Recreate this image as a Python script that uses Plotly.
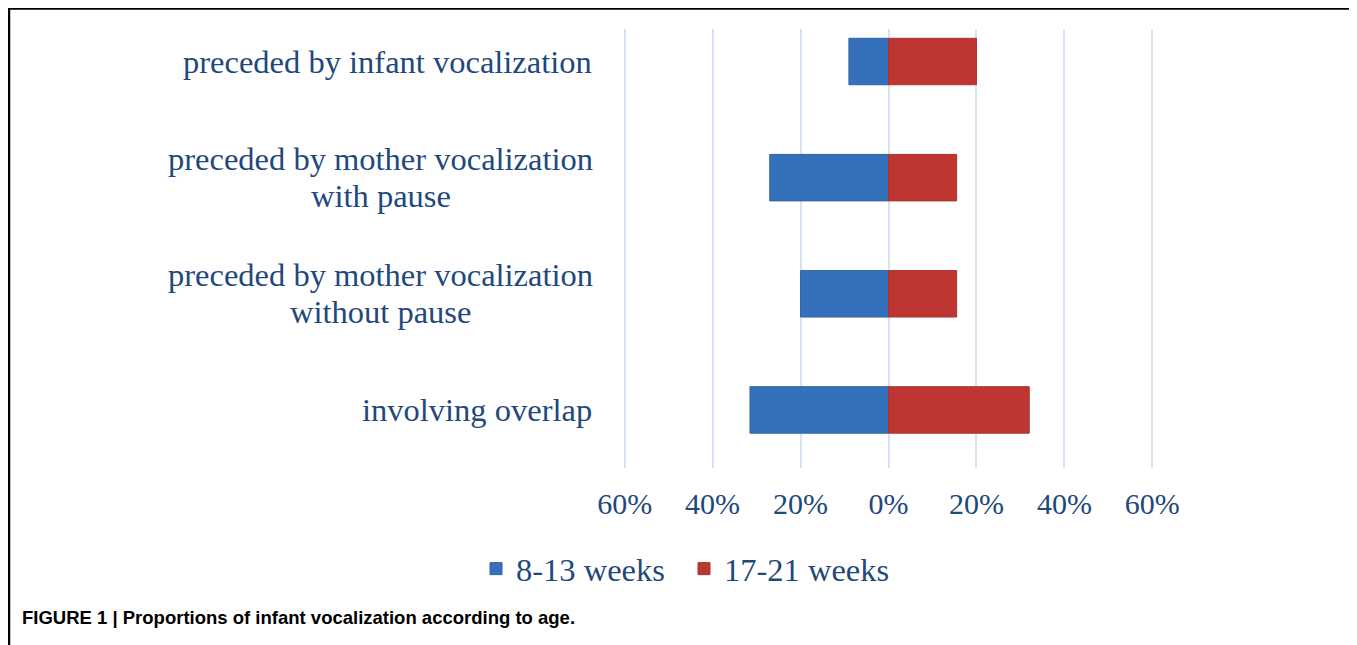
import plotly.graph_objects as go

# ---- data ----
categories = [
    "involving overlap",
    "preceded by mother vocalization without pause",
    "preceded by mother vocalization with pause",
    "preceded by infant vocalization",
]
label_lines = [
    ["involving overlap"],
    ["preceded by mother vocalization", "without pause"],
    ["preceded by mother vocalization", "with pause"],
    ["preceded by infant vocalization"],
]
weeks_8_13 = [31.5, 20, 27, 9]       # percent, drawn to the left
weeks_17_21 = [32, 15.5, 15.5, 20]   # percent, drawn to the right
tick_values = [-60, -40, -20, 0, 20, 40, 60]
tick_labels = ["60%", "40%", "20%", "0%", "20%", "40%", "60%"]
series_names = ["8-13 weeks", "17-21 weeks"]
caption = "<b>FIGURE 1 | Proportions of infant vocalization according to age.</b>"

# ---- layout geometry (page pixels; the page body adds an 8px offset) ----
OFF = 8
W, H = 1357, 645
PL, PR, PT, PB = 622 - OFF, 1155 - OFF, 29 - OFF, 468 - OFF
pw, ph = PR - PL, PB - PT

def px_x(p):
    return (p - OFF - PL) / pw

def px_y(p):
    return (PB - (p - OFF)) / ph

TEXT = "#1F497D"
SERIF = "Liberation Serif, Times New Roman, serif"
LABEL_SIZE = 32.5
LINE_GAP = 37

fig = go.Figure()
fig.add_trace(go.Bar(
    y=categories, x=[-v for v in weeks_8_13], orientation="h",
    name=series_names[0],
    marker=dict(color="#3570BB", line=dict(color="#2F62A6", width=1)),
))
fig.add_trace(go.Bar(
    y=categories, x=weeks_17_21, orientation="h",
    name=series_names[1],
    marker=dict(color="#BF3532", line=dict(color="#A83330", width=1)),
))

annotations = []
label_font = dict(family=SERIF, size=LABEL_SIZE, color=TEXT)
for cat, lines in zip(categories, label_lines):
    if len(lines) == 1:
        annotations.append(dict(
            x=px_x(594), xref="paper", y=cat, yref="y", text=lines[0],
            showarrow=False, xanchor="right", yanchor="middle",
            font=label_font,
        ))
    else:
        for i, line in enumerate(lines):
            annotations.append(dict(
                x=px_x(380.5), xref="paper", y=cat, yref="y", text=line,
                showarrow=False, xanchor="center", yanchor="middle",
                yshift=LINE_GAP / 2 if i == 0 else -LINE_GAP / 2,
                font=label_font,
            ))
annotations.append(dict(
    x=px_x(20), xref="paper", y=px_y(617), yref="paper",
    text=caption, showarrow=False, xanchor="left", yanchor="middle",
    font=dict(family="Liberation Sans, Arial, sans-serif", size=18.5, color="#000000"),
))

fig.update_layout(
    width=W, height=H,
    margin=dict(l=PL, r=W - PR, t=PT, b=H - PB, pad=0),
    paper_bgcolor="white", plot_bgcolor="white",
    barmode="relative", bargap=0.6,
    showlegend=True,
    legend=dict(
        orientation="h", x=px_x(476), xanchor="left",
        y=px_y(569), yanchor="middle",
        font=dict(family=SERIF, size=32.5, color=TEXT),
        bgcolor="rgba(0,0,0,0)", traceorder="normal",
        entrywidth=163, entrywidthmode="pixels",
    ),
    annotations=annotations,
    shapes=[dict(
        type="rect", xref="paper", yref="paper",
        x0=px_x(9), x1=px_x(1356), y0=px_y(680), y1=px_y(8.5),
        line=dict(color="black", width=2.5), fillcolor="rgba(0,0,0,0)",
        layer="above",
    )],
)
fig.update_xaxes(
    range=[-60.6, 60.6], tickvals=tick_values, ticktext=tick_labels,
    showgrid=True, gridcolor="#D6E3F3", gridwidth=2,
    zeroline=True, zerolinecolor="#D6E3F3", zerolinewidth=2,
    showline=False, ticks="", ticklabelstandoff=15,
    tickfont=dict(family=SERIF, size=30, color=TEXT),
)
fig.update_yaxes(
    type="category", categoryorder="array", categoryarray=categories,
    range=[-0.5, 3.28], showticklabels=False, showgrid=False,
    zeroline=False, showline=False, ticks="",
)

fig.write_html("out.html")
